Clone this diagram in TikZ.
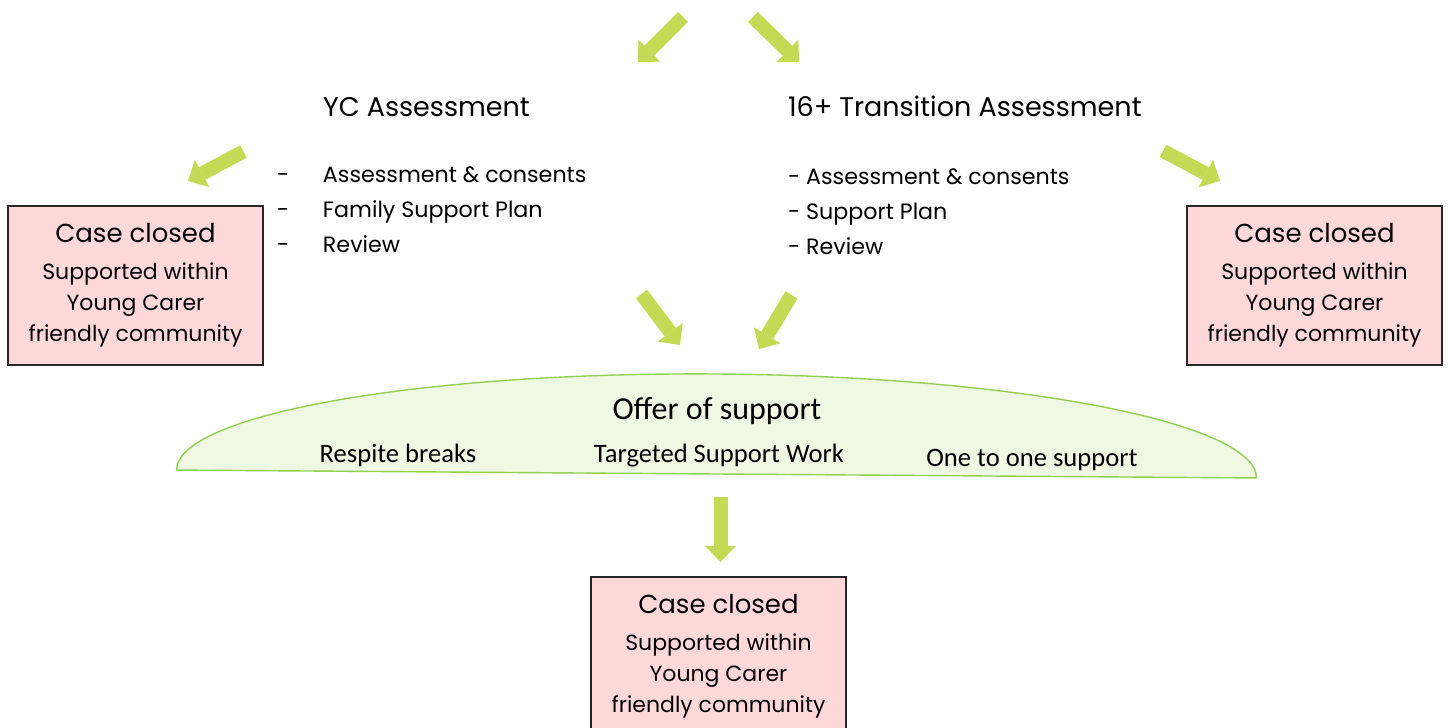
\documentclass[tikz,border=0pt]{standalone}
\usepackage{fontspec}
\setmainfont{Poppins}
\newfontfamily\offerfont{Carlito}
\usetikzlibrary{arrows.meta}

\definecolor{arrowgreen}{RGB}{196,218,84}
\definecolor{closedpink}{RGB}{255,217,217}
\definecolor{offerfill}{RGB}{239,248,227}
\definecolor{offerline}{RGB}{146,208,80}

\begin{document}
\begin{tikzpicture}[
    x=0.5pt, y=-0.5pt,
    every node/.style={inner sep=0pt, outer sep=0pt},
    closedbox/.style={rectangle, draw=black!85, line width=1pt, fill=closedpink,
      minimum width=127.5pt, minimum height=79.5pt, align=center,
      font=\fontsize{11}{15.5}\selectfont},
    heading/.style={anchor=base west, font=\fontsize{13.5}{16}\selectfont},
    item/.style={anchor=base west, font=\fontsize{11.1}{14}\selectfont},
    offertitle/.style={anchor=base, font=\offerfont\fontsize{16}{19}\selectfont},
    offeritem/.style={anchor=base, font=\offerfont\fontsize{13.3}{16}\selectfont},
    offershape/.style={draw=offerline, line width=0.7pt, fill=offerfill},
    bigarrow/.style={draw=arrowgreen, line width=7pt,
      -{Triangle[length=8pt, width=15.5pt, line width=0pt]}}
]
\useasboundingbox (0,0) rectangle (1448,728);

% the two assessments
\node[heading] (ychead) at (323,116.7) {YC Assessment};
\node[item] (yc1) at (277,182) {\makebox[23pt][l]{-}Assessment \& consents};
\node[item] (yc2) at (277,217) {\makebox[23pt][l]{-}Family Support Plan};
\node[item] (yc3) at (277,252) {\makebox[23pt][l]{-}Review};

\node[heading] (trhead) at (788,116) {16+ Transition Assessment};
\node[item] (tr1) at (788,184) {- Assessment \& consents};
\node[item] (tr2) at (788,219) {- Support Plan};
\node[item] (tr3) at (788,254) {- Review};

% closed cases
\newcommand{\closedtext}{{\fontsize{13}{15.5}\selectfont Case closed}\\[3pt]
  Supported within\\ Young Carer\\ friendly community}
\node[closedbox] (closedL) at (135.5,285.5) {\closedtext};
\node[closedbox] (closedR) at (1314.5,285.5) {\closedtext};
\node[closedbox] (closedB) at (718.5,656.5) {\closedtext};

% offer of support
\begin{scope}[rotate around={-0.42:(716.5,474)}]
  \draw[offershape] (176.5,474) arc[start angle=180, end angle=360, x radius=540, y radius=100] -- cycle;
\end{scope}
\node[offertitle] (offer) at (717,419) {Offer of support};
\node[offeritem] (respite) at (398,462) {Respite breaks};
\node[offeritem] (targeted) at (719,462) {Targeted Support Work};
\node[offeritem] (onetoone) at (1032,466) {One to one support};

% arrow ends
\coordinate (inL) at (683,17);   \coordinate (inLtip) at (638,62);
\coordinate (inR) at (753,17);   \coordinate (inRtip) at (799,62);
\coordinate (outL) at (243.5,151.5); \coordinate (outLtip) at (188,181);
\coordinate (outR) at (1163,151);    \coordinate (outRtip) at (1220,181);
\coordinate (ycout) at (641.5,294);  \coordinate (ycouttip) at (680,345);
\coordinate (trout) at (791.5,295);  \coordinate (trouttip) at (759,349);
\coordinate (offout) at (720.5,497); \coordinate (offouttip) at (720.5,562);

\draw[bigarrow] (inL) -- (inLtip);
\draw[bigarrow] (inR) -- (inRtip);
\draw[bigarrow] (outL) -- (outLtip);
\draw[bigarrow] (outR) -- (outRtip);
\draw[bigarrow] (ycout) -- (ycouttip);
\draw[bigarrow] (trout) -- (trouttip);
\draw[bigarrow] (offout) -- (offouttip);
\end{tikzpicture}
\end{document}
